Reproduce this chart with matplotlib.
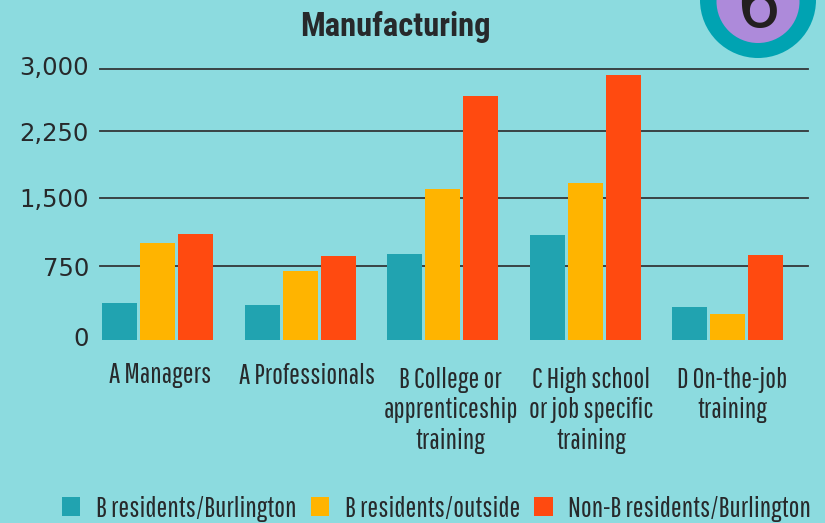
import matplotlib
matplotlib.use("Agg")
import numpy as np
import matplotlib.pyplot as plt
from matplotlib import font_manager as fm
from matplotlib.patches import Circle
from matplotlib.transforms import ScaledTranslation

categories = ["A Managers", "A Professionals", "B College or\napprenticeship\ntraining",
              "C High school\nor job specific\ntraining", "D On-the-job\ntraining"]
series_names = ["B residents/Burlington", "B residents/outside", "Non-B residents/Burlington"]
b_burlington = [375, 355, 882, 1092, 335]
b_outside = [1004, 699, 1601, 1668, 264]
non_b_burlington = [1103, 860, 2673, 2927, 871]
y_ticks = [0, 750, 1500, 2250, 3000]
y_labels = ["0", "750", "1,500", "2,250", "3,000"]
title = "Manufacturing"
badge = "6"

BG = "#8CDBDF"
colors = ["#21A3B0", "#FFB400", "#FF4A10"]
INK = "#27292B"

avail = {f.name for f in fm.fontManager.ttflist}
def pick(*names):
    return next((n for n in names if n in avail), "Liberation Sans")
narrow = pick("Pathway Gothic One", "Barlow Condensed", "Roboto Condensed")
heavy = pick("Roboto Condensed", "Barlow Condensed", "Oswald")
wide = "DejaVu Sans"

W, H = 825, 523
# the printed axis is not quite even: gridline pixel rows from y=0 upward
grid_rows = [340, 266, 198, 131, 69]
top_row, bottom_row = grid_rows[-1], grid_rows[0]
offsets = [(bottom_row - r) / (bottom_row - top_row) for r in grid_rows]
def forward(v):
    return np.interp(v, y_ticks, offsets)
def inverse(u):
    return np.interp(u, offsets, y_ticks)

fig = plt.figure(figsize=(W / 100, H / 100), dpi=100, facecolor=BG)
ax = fig.add_axes([100 / W, 1 - bottom_row / H, 708 / W, (bottom_row - top_row) / H], facecolor="none")
ax.set_yscale("function", functions=(forward, inverse))
ax.set_xlim(-0.404, 4.565)
ax.set_ylim(0, 3000)

width = 35 / 142.5
step = 38 / 142.5
for i, (vals, name, c) in enumerate(zip([b_burlington, b_outside, non_b_burlington], series_names, colors)):
    ax.bar([x + (i - 1) * step for x in range(len(categories))], vals, width, color=c, label=name, zorder=3)

ax.set_yticks(y_ticks)
ax.set_yticklabels(y_labels, fontname=wide, fontsize=17.5, color=INK)
ax.minorticks_off()
ax.set_xticks(range(len(categories)))
ax.set_xticklabels(categories, fontname=narrow, fontsize=20.6, color=INK, linespacing=1.22)
ax.tick_params(axis="x", length=0, pad=17)
ax.tick_params(axis="y", length=0, pad=8)
ax.grid(axis="y", color="#333638", lw=1.3, zorder=1, clip_on=False)
ax.set_axisbelow(True)
for s in ax.spines.values():
    s.set_visible(False)
ax.yaxis.get_gridlines()[0].set_visible(False)

for lab, dx, dy in zip(ax.get_xticklabels(), [3, 7, 8, 6, 5], [2, 1, -3, -3, -3]):
    lab.set_transform(lab.get_transform() + ScaledTranslation(dx / 100, dy / 100, fig.dpi_scale_trans))
for lab, dy in zip(ax.get_yticklabels(), [3, 0, 0, 0, 3]):
    lab.set_transform(lab.get_transform() + ScaledTranslation(0, dy / 100, fig.dpi_scale_trans))

fig.text(395 / W, 1 - 27 / H, title, ha="center", va="center", fontname=heavy,
         fontweight="bold", fontsize=23.5, color=INK)

overlay = fig.add_axes([0, 0, 1, 1], facecolor="none")
overlay.set_xlim(0, W)
overlay.set_ylim(H, 0)
overlay.axis("off")
overlay.add_patch(Circle((758, 0), 58, color="#00A3B2", lw=0))
overlay.add_patch(Circle((758, 1.5), 41.5, color="#AD8ADA", lw=0))
overlay.text(758, 27, badge, ha="center", va="baseline", fontname=wide, fontsize=50,
             color="#231F20", clip_on=True)

handles, labels = ax.get_legend_handles_labels()
fig.legend(handles, labels, ncol=3, loc="lower left", bbox_to_anchor=(62 / W, 1 - 522 / H), frameon=False,
           prop={"family": narrow, "size": 20.7}, labelcolor=INK, handlelength=0.63, handleheight=0.63,
           handletextpad=0.55, columnspacing=0.5, borderpad=0, borderaxespad=0)
fig.savefig("out.png", dpi=100, facecolor=BG)
